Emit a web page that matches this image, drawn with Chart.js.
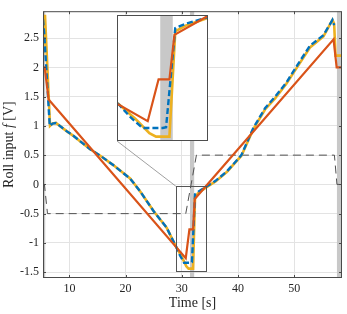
<!DOCTYPE html>
<html>
<head>
<meta charset="utf-8">
<script src="https://cdn.jsdelivr.net/npm/chart.js@4.4.0/dist/chart.umd.min.js"></script>
<style>
  html, body { margin: 0; padding: 0; background: #fff; }
  #wrap { position: relative; width: 347px; height: 314px; }
  #main { position: absolute; left: 0; top: 0; }
  #insetbox { position: absolute; left: 117px; top: 15px; width: 89px; height: 124px; border: 1px solid #4d4d4d; background: #fff; }
  #inset { display: block; }
</style>
</head>
<body>
<div id="wrap">
  <canvas id="main" width="347" height="314"></canvas>
  <div id="insetbox"><canvas id="inset" width="89" height="124"></canvas></div>
</div>
<script>
// axis ticks
const timeTicks = [10, 20, 30, 40, 50];
const rollTicks = [-1.5, -1, -0.5, 0, 0.5, 1, 1.5, 2, 2.5];

// reference input (dashed grey)
const refT = [5.3, 5.55, 6.1, 30.7, 32.6, 57.15, 57.6, 58.5];
const refY = [0, 0, -0.5, -0.5, 0.5, 0.5, 0, 0];

// red
const redT = [5.3, 5.6, 6.3, 30.7, 31.35, 32.0, 32.3, 57.0, 57.55, 58.5];
const redY = [2.0, 2.0, 1.45, -1.26, -0.77, -0.77, -0.25, 2.48, 2.0, 2.0];

// yellow
const yelT = [5.3, 5.65, 6.55, 7.0, 7.6, 9.5, 10.7, 12.0, 13.7, 15.5, 17.8, 20.8, 22.6, 25.0, 27.3, 28.9,
  30.0, 30.8, 31.2, 32.0, 32.35, 33.0, 34.2, 36.0, 38.0, 40.6, 42.7, 44.8, 46.6, 48.6, 50.5, 52.8, 55.2,
  56.8, 57.1, 57.35, 58.5];
const yelY = [2.2, 2.9, 1.0, 1.04, 1.05, 0.91, 0.83, 0.73, 0.6, 0.49, 0.33, 0.1, -0.12, -0.46, -0.74, -1.05,
  -1.24, -1.4, -1.44, -1.44, -0.21, -0.14, -0.06, 0.05, 0.21, 0.49, 0.94, 1.28, 1.47, 1.72, 2.0, 2.34, 2.53,
  2.81, 2.75, 2.2, 2.2];

// blue (dashed)
const bluT = [5.3, 5.5, 6.5, 7.0, 7.6, 9.5, 10.7, 12.0, 13.7, 15.5, 17.8, 20.8, 22.6, 25.0, 27.3, 28.9,
  29.7, 30.4, 31.6, 31.8, 32.35, 33.0, 34.2, 36.0, 38.0, 40.6, 42.7, 44.8, 46.6, 48.6, 50.5, 52.8, 55.2,
  56.8, 57.1];
const bluY = [2.82, 2.6, 1.0, 1.04, 1.05, 0.91, 0.83, 0.73, 0.6, 0.49, 0.33, 0.1, -0.12, -0.46, -0.74, -1.05,
  -1.22, -1.34, -1.34, -1.33, -0.17, -0.12, -0.05, 0.06, 0.22, 0.5, 0.96, 1.3, 1.5, 1.74, 2.03, 2.37, 2.55,
  2.81, 2.72];

// shaded intervals
const bandStart = [5.3, 31.45, 57.6];
const bandEnd = [5.7, 32.2, 58.5];

// zoomed region shown in the inset
const zoomT = [28.92, 34.25];
const zoomY = [-1.48, -0.03];

function pts(t, y) {
  return t.map((v, i) => ({ x: v, y: y[i] }));
}

const serif = '"Liberation Serif", "DejaVu Serif", serif';
const txt = '#262626';

function lines(withRef) {
  let ds = [
    { data: pts(redT, redY), borderColor: '#D95319', borderWidth: 2.2 },
    { data: pts(bluT, bluY), borderColor: '#0072BD', borderWidth: 2.4, borderDash: [6, 3] },
    { data: pts(yelT, yelY), borderColor: '#EDB120', borderWidth: 2.6 },
  ];
  if (withRef) {
    ds.push({ data: pts(refT, refY), borderColor: '#505050', borderWidth: 1, borderDash: [8, 5] });
  }
  ds.forEach(d => { d.pointRadius = 0; d.tension = 0; d.fill = false; });
  return ds;
}

const bandsPlugin = {
  id: 'bands',
  beforeDatasetsDraw(chart) {
    const { ctx, chartArea: a, scales: { x } } = chart;
    ctx.save();
    ctx.beginPath();
    ctx.rect(a.left, a.top, a.width, a.height);
    ctx.clip();
    ctx.fillStyle = '#c8c8c8';
    bandStart.forEach((t0, i) => {
      const x0 = x.getPixelForValue(t0);
      const x1 = x.getPixelForValue(bandEnd[i]);
      ctx.fillRect(x0, a.top, x1 - x0, a.height);
    });
    ctx.restore();
  }
};

const framePlugin = {
  id: 'frame',
  afterDatasetsDraw(chart) {
    const { ctx, chartArea: a, scales: { x, y } } = chart;
    ctx.save();
    // zoom rectangle + connector to the inset
    const rx0 = x.getPixelForValue(zoomT[0]), rx1 = x.getPixelForValue(zoomT[1]);
    const ry0 = y.getPixelForValue(zoomY[1]), ry1 = y.getPixelForValue(zoomY[0]);
    ctx.strokeStyle = '#555';
    ctx.lineWidth = 1;
    ctx.strokeRect(Math.round(rx0) + 0.5, Math.round(ry0) + 0.5, Math.round(rx1 - rx0), Math.round(ry1 - ry0));
    const box = document.getElementById('insetbox');
    ctx.strokeStyle = '#888';
    ctx.lineWidth = 0.8;
    ctx.beginPath();
    ctx.moveTo(box.offsetLeft, box.offsetTop + box.offsetHeight);
    ctx.lineTo(rx0, ry0);
    ctx.stroke();

    // axes box with inward ticks
    ctx.strokeStyle = '#4a4a4a';
    ctx.lineWidth = 1;
    ctx.strokeRect(a.left + 0.5, a.top + 0.5, a.width - 1, a.height - 1);
    ctx.beginPath();
    timeTicks.forEach(t => {
      const px = Math.round(x.getPixelForValue(t)) + 0.5;
      ctx.moveTo(px, a.bottom); ctx.lineTo(px, a.bottom - 3);
      ctx.moveTo(px, a.top); ctx.lineTo(px, a.top + 3);
    });
    rollTicks.forEach(v => {
      const py = Math.round(y.getPixelForValue(v)) + 0.5;
      ctx.moveTo(a.left, py); ctx.lineTo(a.left + 3, py);
      ctx.moveTo(a.right, py); ctx.lineTo(a.right - 3, py);
    });
    ctx.stroke();

    // y axis title, with italic f
    const parts = [['Roll input ', '14px ' + serif], ['f', 'italic 14px ' + serif], [' [V]', '14px ' + serif]];
    let w = 0;
    parts.forEach(p => { ctx.font = p[1]; w += ctx.measureText(p[0]).width; });
    ctx.translate(9, (a.top + a.bottom) / 2);
    ctx.rotate(-Math.PI / 2);
    ctx.fillStyle = txt;
    ctx.textBaseline = 'middle';
    let cx = -w / 2;
    parts.forEach(p => {
      ctx.font = p[1];
      ctx.fillText(p[0], cx, 0);
      cx += ctx.measureText(p[0]).width;
    });
    ctx.restore();
  }
};

new Chart(document.getElementById('main'), {
  type: 'line',
  data: { datasets: lines(true) },
  options: {
    responsive: false,
    animation: false,
    layout: { padding: { top: 6, right: 5, left: 0, bottom: 0 } },
    plugins: { legend: { display: false }, tooltip: { enabled: false } },
    scales: {
      x: {
        type: 'linear', min: 5.3, max: 58.5,
        afterBuildTicks: s => { s.ticks = timeTicks.map(v => ({ value: v })); },
        afterFit: s => { s.height = 36; },
        grid: { color: '#e3e3e3', drawTicks: false },
        border: { display: false },
        ticks: { color: txt, font: { family: serif, size: 12 }, padding: 4, maxRotation: 0, callback: v => String(v) },
        title: { display: true, text: 'Time [s]', color: txt, font: { family: serif, size: 14 }, padding: { top: 0, bottom: 2 } }
      },
      y: {
        type: 'linear', min: -1.6, max: 2.96,
        afterBuildTicks: s => { s.ticks = rollTicks.map(v => ({ value: v })); },
        afterFit: s => { s.width = 43; },
        grid: { color: '#e3e3e3', drawTicks: false },
        border: { display: false },
        ticks: { color: txt, font: { family: serif, size: 12 }, padding: 4, callback: v => String(v) }
      }
    }
  },
  plugins: [bandsPlugin, framePlugin]
});

new Chart(document.getElementById('inset'), {
  type: 'line',
  data: { datasets: lines(false) },
  options: {
    responsive: false,
    animation: false,
    layout: { padding: 0 },
    plugins: { legend: { display: false }, tooltip: { enabled: false } },
    scales: {
      x: { type: 'linear', display: false, min: zoomT[0], max: zoomT[1] },
      y: { type: 'linear', display: false, min: zoomY[0], max: zoomY[1] }
    }
  },
  plugins: [bandsPlugin]
});
</script>
</body>
</html>
